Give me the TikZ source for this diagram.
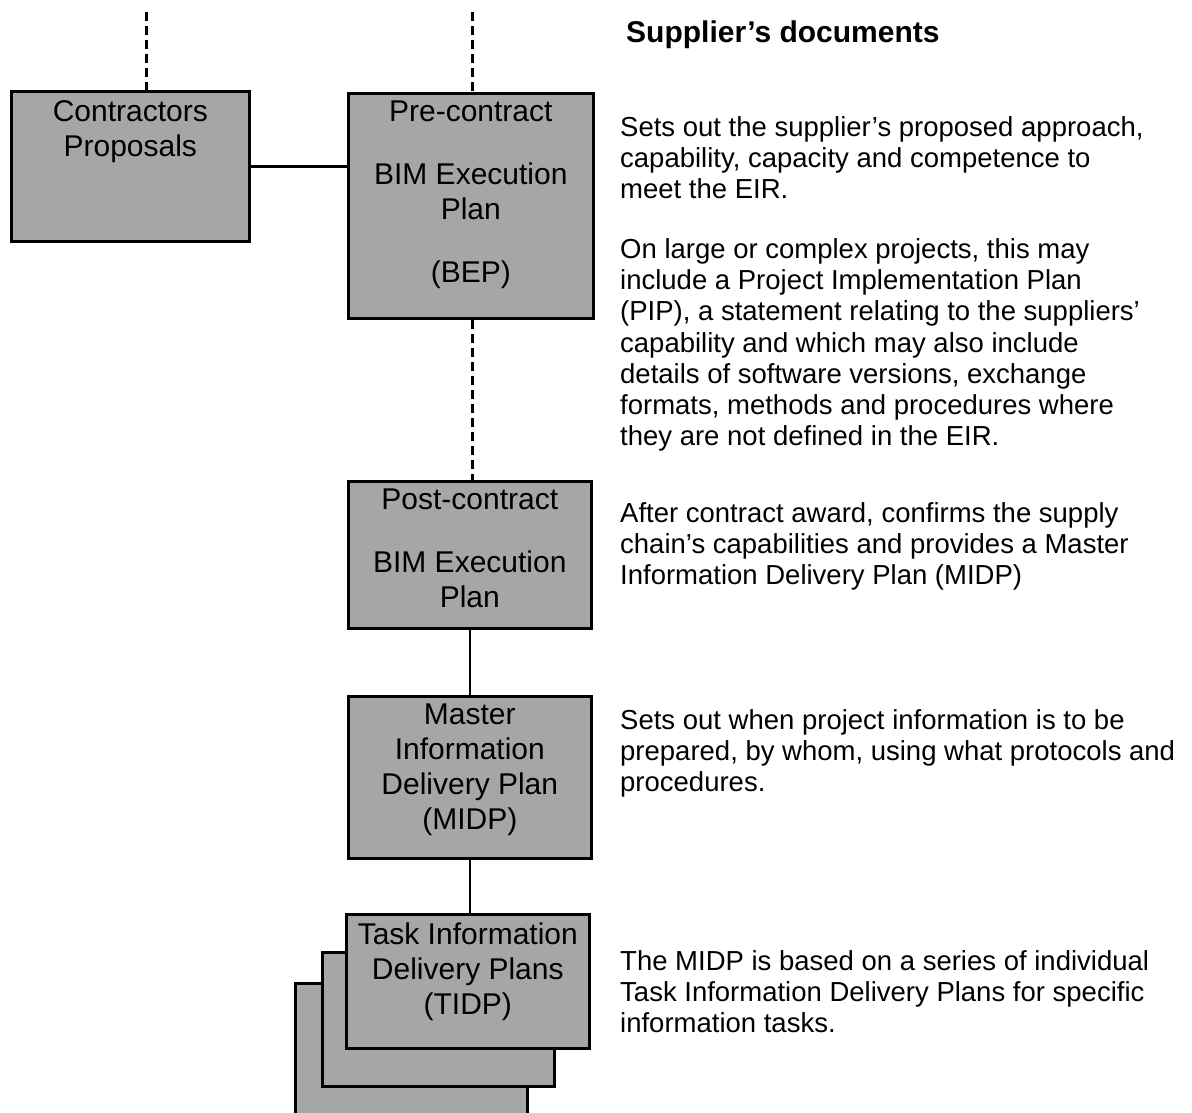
\documentclass[tikz,border=0pt]{standalone}
\usepackage{fontspec}
\setmainfont{Liberation Sans}
\definecolor{boxfill}{RGB}{166,166,166}
\begin{document}
\begin{tikzpicture}[x=1pt,y=-1pt,
  box/.style={draw=black, line width=2.6pt, fill=boxfill, rectangle, inner sep=0pt, anchor=north west},
  boxtext/.style={font=\fontsize{30}{35}\selectfont, align=center, inner sep=0pt, anchor=north},
  desc/.style={font=\fontsize{27.5}{31.3}\selectfont, align=left, inner sep=0pt, anchor=north west},
  link/.style={line width=2.6pt, draw=black},
  dashlink/.style={line width=3pt, draw=black, dash pattern=on 9pt off 5pt}]
\useasboundingbox (0,0) rectangle (1192,1113);
\clip (0,0) rectangle (1192,1113);

% boxes of the left column
\node[box, minimum width=238, minimum height=150] (cp) at (10,90) {};
\node[boxtext] (cpt) at ([yshift=-10]cp.north) {Contractors\\Proposals};

\node[box, minimum width=245, minimum height=225] (pre) at (347,92) {};
\node[boxtext] (pret) at ([yshift=-9]pre.north) {Pre-contract\\[28pt]BIM Execution\\Plan\\[28pt](BEP)};

\node[box, minimum width=243, minimum height=147] (post) at (347,480) {};
\node[boxtext] (postt) at ([yshift=-9]post.north) {Post-contract\\[27.5pt]BIM Execution\\Plan};

\node[box, minimum width=243, minimum height=162] (midp) at (347,695) {};
\node[boxtext] (midpt) at ([yshift=-9]midp.north) {Master\\Information\\Delivery Plan\\(MIDP)};

% stacked task plans, back to front
\node[box, minimum width=232, minimum height=150] (tidp3) at (294,982) {};
\node[box, minimum width=232, minimum height=134] (tidp2) at (321,951) {};
\node[box, minimum width=243, minimum height=134] (tidp) at (345,913) {};
\node[boxtext] (tidpt) at ([yshift=-10]tidp.north) {Task Information\\Delivery Plans\\(TIDP)};

% connectors
\coordinate (cpin) at ([xshift=16pt]cp.north);
\coordinate (topcp) at (cpin |- 0,12);
\coordinate (prein) at ([xshift=2pt]pre.north);
\coordinate (toppre) at (prein |- 0,12);
\draw[dashlink] (topcp) -- (cpin);
\draw[dashlink] (toppre) -- (prein);
\draw[link] (cp.east) -- (cp.east -| pre.west);
\draw[dashlink] ([xshift=2pt]pre.south) -- ([xshift=2pt]pre.south |- post.north);
\draw[link] (post.south) -- (post.south |- midp.north);
\draw[link] (midp.south) -- (midp.south |- tidp.north);

% right column
\node[font=\bfseries\fontsize{30}{35}\selectfont, inner sep=0pt, anchor=north west] (head) at (626,21) {Supplier’s documents};

\node[desc] (d1) at (620,116) {Sets out the supplier’s proposed approach,\\capability, capacity and competence to\\meet the EIR.};
\node[desc] (d2) at (620,238) {On large or complex projects, this may\\include a Project Implementation Plan\\(PIP), a statement relating to the suppliers’\\capability and which may also include\\details of software versions, exchange\\formats, methods and procedures where\\they are not defined in the EIR.};
\node[desc] (d3) at (620,502) {After contract award, confirms the supply\\chain’s capabilities and provides a Master\\Information Delivery Plan (MIDP)};
\node[desc] (d4) at (620,709) {Sets out when project information is to be\\prepared, by whom, using what protocols and\\procedures.};
\node[desc] (d5) at (620,950) {The MIDP is based on a series of individual\\Task Information Delivery Plans for specific\\information tasks.};
\end{tikzpicture}
\end{document}
